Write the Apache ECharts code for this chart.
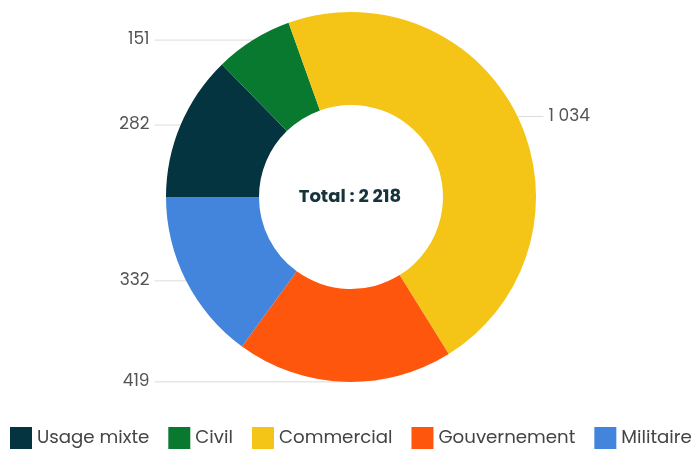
<!DOCTYPE html>
<html>
<head>
<meta charset="utf-8">
<script src="https://cdn.jsdelivr.net/npm/echarts@6/dist/echarts.min.js"></script>
<style>
  html, body { margin: 0; padding: 0; background: #fff; }
  #chart { width: 697px; height: 451px; }
</style>
</head>
<body>
<div id="chart"></div>
<script>
// categories & values
var categories = ['Usage mixte', 'Civil', 'Commercial', 'Gouvernement', 'Militaire'];
var values = [282, 151, 1034, 419, 332];
var colors = ['#03343f', '#08792f', '#f4c417', '#fe570d', '#4385dc'];

// format numbers with a space as thousands separator (1 034)
function fmt(n) {
    return String(n).replace(/\B(?=(\d{3})+(?!\d))/g, ' ');
}

var total = values.reduce(function (a, b) { return a + b; }, 0);

var pieData = categories.map(function (name, i) {
    return { name: name, value: values[i], itemStyle: { color: colors[i] } };
});

var chart = echarts.init(document.getElementById('chart'));

chart.setOption({
    animation: false,
    textStyle: { fontFamily: 'Poppins, "Noto Sans", sans-serif' },
    legend: {
        data: categories,
        left: 10,
        bottom: 2,
        width: 697,
        padding: 0,
        icon: 'rect',
        itemWidth: 22,
        itemHeight: 22,
        itemGap: 19,
        textStyle: { fontSize: 18.2, color: '#444' }
    },
    graphic: [{
        type: 'text',
        x: 350,
        y: 197,
        style: {
            text: 'Total : ' + fmt(total),
            fontSize: 18,
            fontWeight: 'bold',
            fill: '#17333b',
            align: 'center',
            verticalAlign: 'middle',
            fontFamily: 'Poppins, "Noto Sans", sans-serif'
        }
    }],
    series: [{
        type: 'pie',
        center: [351, 197],
        radius: [92, 185],
        startAngle: 180,
        clockwise: true,
        data: pieData,
        label: {
            formatter: function (p) { return fmt(p.value); },
            color: '#555',
            fontSize: 17,
            padding: [4, 0, 0, 0],
            alignTo: 'labelLine',
            distanceToLabelLine: 5
        },
        labelLine: {
            length: 0,
            length2: 26,
            lineStyle: { color: '#dcdcdc', width: 1 }
        },
        emphasis: { disabled: true }
    }]
});
</script>
</body>
</html>
